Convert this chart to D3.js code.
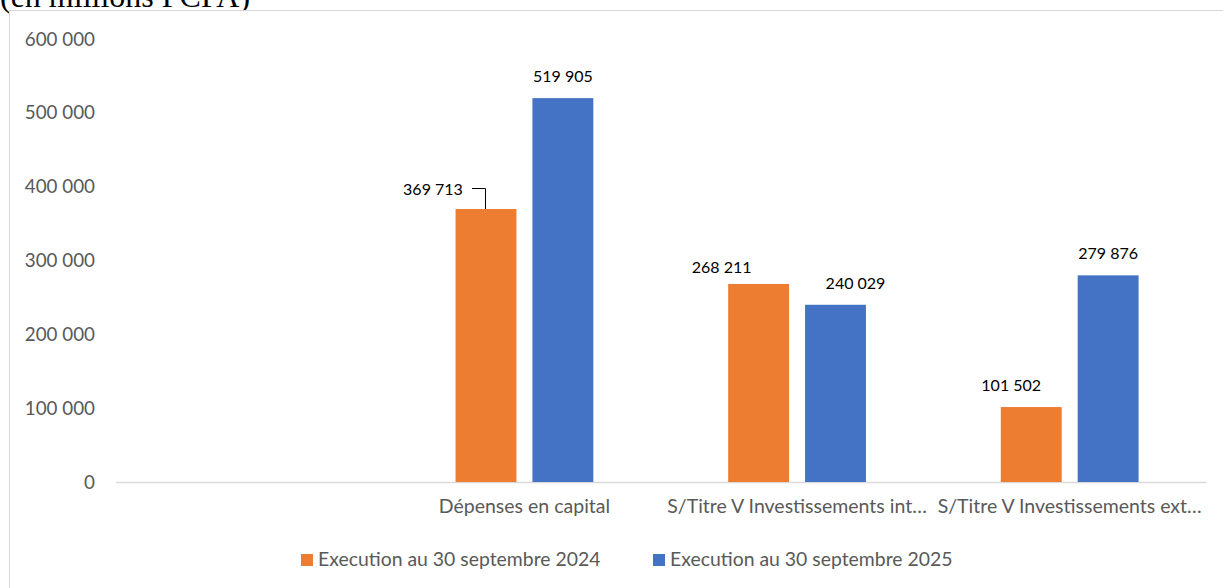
<!DOCTYPE html>
<html><head><meta charset="utf-8">
<script src="https://cdn.jsdelivr.net/npm/d3@7"></script>
<style>
html,body{margin:0;padding:0;background:#fff;overflow:hidden}
svg{display:block}
</style></head>
<body>
<script>
const categories = ["", "Dépenses en capital", "S/Titre V Investissements int…", "S/Titre V Investissements ext…"];
const seriesNames = ["Execution au 30 septembre 2024", "Execution au 30 septembre 2025"];
const values2024 = [null, 369713, 268211, 101502];
const values2025 = [null, 519905, 240029, 279876];
const yTicks = [0, 100000, 200000, 300000, 400000, 500000, 600000];
const colors = ["#ED7D31", "#4472C4"];
// label nudges (dx, dy) in px relative to default position above the bar
const labelNudge2024 = [null, [-53, 2], [-37, 5], [-20, 0]];
const labelNudge2025 = [null, [0, 0], [20, 0], [0, 0]];

const W = 1223, H = 588;
const svg = d3.select("body").append("svg").attr("width", W).attr("height", H);
const font = "Lato, Carlito, 'Open Sans', sans-serif";

// clipped title (cut at the top edge, as in the source)
svg.append("text").attr("x", 0).attr("y", 7)
  .attr("font-family", "'Liberation Serif', 'Times New Roman', serif")
  .attr("font-size", 32).attr("fill", "#000").text("(en millions FCFA)");

// chart border
svg.append("rect").attr("x", 9.5).attr("y", 10.5).attr("width", W + 10).attr("height", H + 10)
  .attr("fill", "#fff").attr("stroke", "#d9d9d9").attr("stroke-width", 1);

const y = d3.scaleLinear().domain([0, 600000]).range([482, 39]);
const x0 = d3.scaleBand().domain(categories).range([115.5, 1206]).paddingInner(0).paddingOuter(0);
const x1 = d3.scaleBand().domain(seriesNames).range([0, x0.bandwidth()]).paddingInner(0.208).paddingOuter(0.877);

const fmt = v => d3.format(",")(v).replace(/,/g, " ");

// y axis labels
const yAxis = d3.axisLeft(y).tickValues(yTicks).tickFormat(fmt).tickSize(0).tickPadding(0);
const gy = svg.append("g").attr("transform", "translate(95,0)").call(yAxis);
gy.select(".domain").remove();
gy.selectAll("text").attr("font-family", font).attr("font-size", 18.8).attr("fill", "#595959");

// x axis
const xAxis = d3.axisBottom(x0).tickSize(0).tickPadding(17);
const gx = svg.append("g").attr("transform", "translate(0,482)").call(xAxis);
gx.select(".domain").attr("stroke", "#d9d9d9").attr("stroke-width", 1.5);
gx.selectAll("text").attr("font-family", font).attr("font-size", 19.5).attr("fill", "#595959");

const allVals = [values2024, values2025];
const nudges = [labelNudge2024, labelNudge2025];
seriesNames.forEach((s, si) => {
  const data = categories.map((c, i) => ({c, v: allVals[si][i], n: nudges[si][i]})).filter(d => d.v != null);
  svg.append("g").selectAll("rect").data(data).join("rect")
    .attr("x", d => x0(d.c) + x1(s))
    .attr("y", d => y(d.v))
    .attr("width", x1.bandwidth())
    .attr("height", d => y(0) - y(d.v))
    .attr("fill", colors[si]);
  svg.append("g").selectAll("text").data(data).join("text")
    .attr("x", d => x0(d.c) + x1(s) + x1.bandwidth() / 2 + d.n[0])
    .attr("y", d => y(d.v) - 16 + d.n[1])
    .attr("text-anchor", "middle")
    .attr("font-family", font).attr("font-size", 16).attr("fill", "#000")
    .text(d => fmt(d.v));
});

// leader line for 369 713
{
  const c = categories[1], s = seriesNames[0];
  const cx = x0(c) + x1(s) + x1.bandwidth() / 2;
  const ty = y(values2024[1]);
  svg.append("path")
    .attr("d", `M${cx - 14},${Math.round(ty - 21) + 0.5}H${cx - 0.5}V${ty}`)
    .attr("fill", "none").attr("stroke", "#000").attr("stroke-width", 1);
}

// legend
const legend = svg.append("g");
const legX = [301, 653];
seriesNames.forEach((s, i) => {
  legend.append("rect").attr("x", legX[i]).attr("y", 554).attr("width", 12).attr("height", 12).attr("fill", colors[i]);
  legend.append("text").attr("x", legX[i] + 17).attr("y", 566)
    .attr("font-family", font).attr("font-size", 19.4).attr("fill", "#595959").text(s);
});
</script>
</body></html>
